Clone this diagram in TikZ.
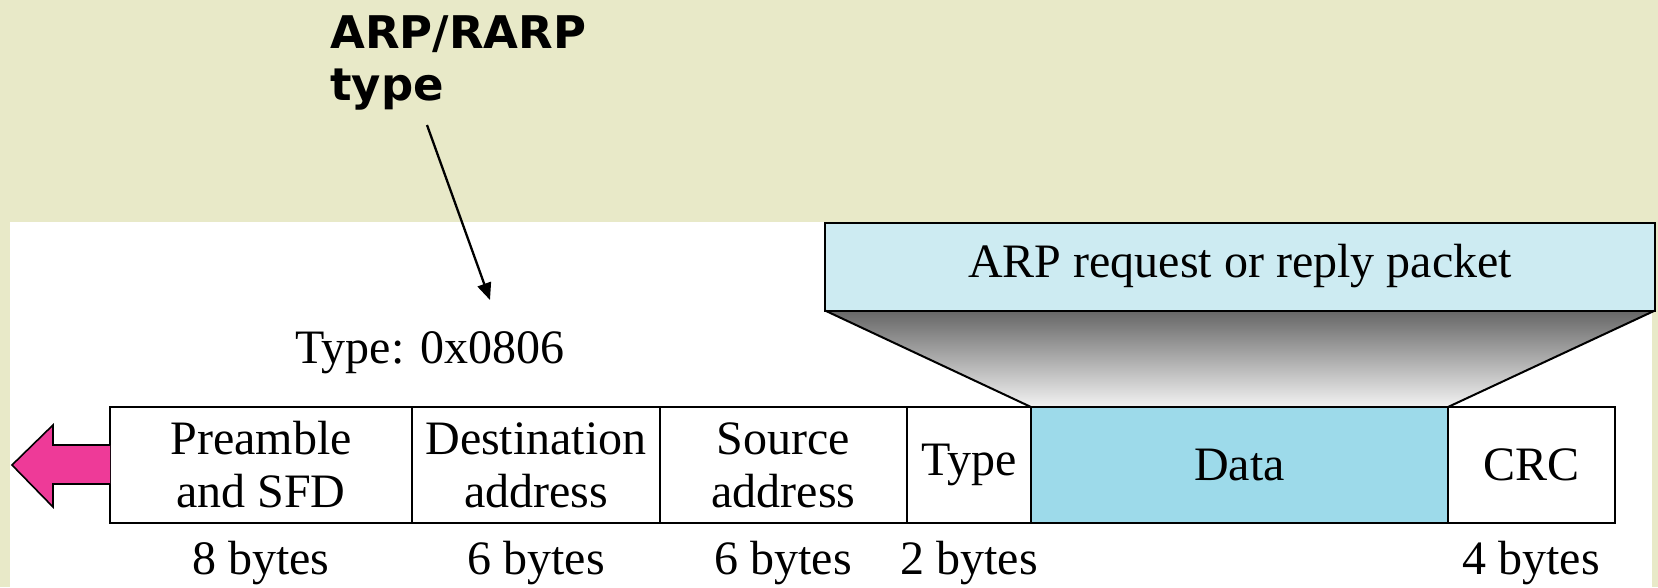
\documentclass[tikz,border=0pt]{standalone}
\usepackage{fontspec}
\setmainfont{Liberation Serif}
\newfontfamily\labelfont{DejaVu Sans}
\usetikzlibrary{arrows.meta}
\definecolor{olivebg}{RGB}{232,233,200}
\definecolor{pktblue}{RGB}{205,235,242}
\definecolor{datablue}{RGB}{157,218,234}
\definecolor{pinkarrow}{RGB}{238,58,152}
\begin{document}
\begin{tikzpicture}[x=1pt,y=-1pt,
  field/.style={draw, line width=2pt, outer sep=0pt, inner sep=0pt,
    minimum height=116pt, align=center, font=\fontsize{48}{53}\selectfont},
  sizelbl/.style={anchor=base, inner sep=0pt, font=\fontsize{48}{53}\selectfont},
  pointer/.style={line width=2.3pt, -{Triangle[length=17pt,width=14pt]}}
]
\useasboundingbox (0,0) rectangle (1658,587);
% page background and white panel
\fill[olivebg] (0,0) rectangle (1658,587);
\fill[white] (10,222) rectangle (1652,587);

% Ethernet frame fields
\node[field, minimum width=302pt] (pre) at (261,465) {Preamble\\and SFD};
\node[field, minimum width=248pt] (dst) at (536,465) {Destination\\address};
\node[field, minimum width=247pt] (src) at (783.5,465) {Source\\address};
\node[field, minimum width=124pt] (typ) at (969,465) {Type};
\node[field, minimum width=417pt, fill=datablue] (dat) at (1239.5,465) {Data};
\node[field, minimum width=167pt] (crc) at (1531.5,465) {CRC};

% encapsulated ARP packet
\node[field, minimum width=830pt, minimum height=88pt, fill=pktblue] (arp) at (1240,266.5) {ARP request or reply packet};
\shade[top color=black!60, bottom color=black!5]
  (arp.south west) -- (arp.south east) -- (dat.north east) -- (dat.north west) -- cycle;
\draw[line width=2pt] (arp.south west) -- (dat.north west);
\draw[line width=2pt] (arp.south east) -- (dat.north east);
\draw[line width=2pt] (arp.south west) -- (arp.south east);
\draw[line width=2pt] (dat.north west) -- (dat.north east);

% direction of transmission
\draw[fill=pinkarrow, line width=1.6pt, line join=miter]
  (pre.west |- 0,445) -- (53,445) -- (53,425) -- (12,465) -- (53,507) -- (53,484) -- (pre.west |- 0,484);

% field sizes
\node[sizelbl] (s1) at (261,574) {8 bytes};
\node[sizelbl] (s2) at (536,574) {6 bytes};
\node[sizelbl] (s3) at (783,574) {6 bytes};
\node[sizelbl] (s4) at (969,574) {2 bytes};
\node[sizelbl] (s5) at (1531,574) {4 bytes};

% type value and annotation
\node[sizelbl] (tval) at (430,363) {Type: 0x0806};
\node[anchor=base west, inner sep=0pt, align=left,
  font=\labelfont\bfseries\fontsize{45}{52}\selectfont] (note) at (330,100) {ARP/RARP\\type};
\coordinate (tail) at (427,125);
\coordinate (tip) at (490,300);
\draw[pointer] (tail) -- (tip);
\end{tikzpicture}
\end{document}
